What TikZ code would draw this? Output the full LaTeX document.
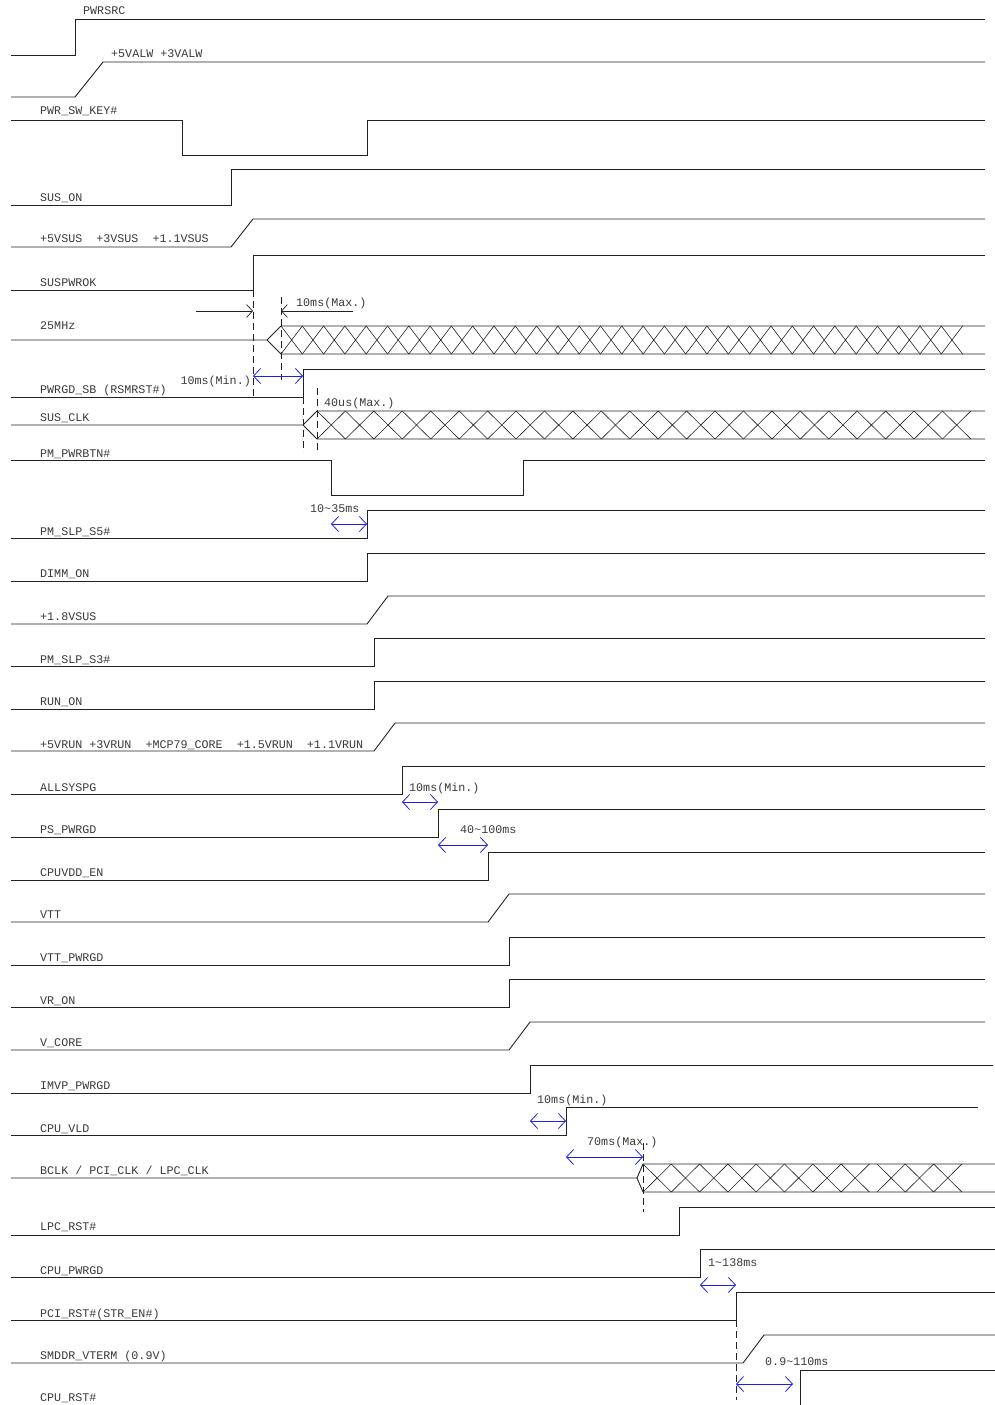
\documentclass[tikz,border=0pt]{standalone}
\usepackage{fontspec}
\setmonofont{Liberation Mono}
\usepackage{xcolor}
\usepackage{tikz}
\usetikzlibrary{arrows.meta, calc}
\definecolor{traceink}{HTML}{222222}
\definecolor{labelink}{HTML}{3A3A3A}
\definecolor{spanblue}{HTML}{1E1EF0}
\tikzset{
  wave/.style={line width=0.9pt, color=traceink},
  hatch/.style={line width=0.6pt, color=traceink},
  sig/.style={font=\ttfamily\fontsize{11.7}{13}\selectfont, text=labelink, anchor=base west, inner sep=0pt},
  guide/.style={line width=0.8pt, color=traceink, dash pattern=on 7pt off 4pt},
  bound/.style={-{Straight Barb[length=6pt, width=13pt]}, line width=0.7pt, color=traceink},
  span/.style={{Straight Barb[length=7pt, width=15pt]}-{Straight Barb[length=7pt, width=15pt]}, line width=0.8pt, color=spanblue},
}
\begin{document}
\begin{tikzpicture}[x=1pt, y=-1pt]
  \useasboundingbox (0,0) rectangle (995,1405);
  % step and ramp signals: low / edge start / edge end / high / line end
  \foreach \lo/\xa/\xb/\hi/\xe in {55/75/75/19/985, 97/75/103/62/985, 205/231/231/169/985,
      247/231/253/219/985, 290/253/253/255/985, 397/303/303/369/985, 538/367/367/510/985,
      581/367/367/553/985, 624/367/388/596/985, 666/374/374/638/985, 709/374/374/681/985,
      751/374/395/723/985, 794/402/402/766/985, 837/438/438/809/985, 880/488/488/852/985,
      922/488/509/894/985, 965/509/509/937/985, 1007/509/509/979/985, 1050/509/530/1022/985,
      1093/530/530/1065/993, 1135/566/566/1107/978, 1235/679/679/1207/995,
      1277/700/700/1249/995, 1320/736/736/1292/995, 1363/743/764/1335/995}
    \draw[wave] (11,\lo) -- (\xa,\lo) -- (\xb,\hi) -- (\xe,\hi);
  \draw[wave] (800,1405) -- (800,1370) -- (995,1370);
  % pulses
  \draw[wave] (11,120) -- (182,120) -- (182,155) -- (367,155) -- (367,120) -- (985,120);
  \draw[wave] (11,460) -- (331,460) -- (331,495) -- (523,495) -- (523,460) -- (985,460);

  % clocks
  \draw[wave] (11,340) -- (267,340) -- (281,326) -- (985,326) (267,340) -- (281,354) -- (985,354);
  \foreach \i in {0,...,31}
    \draw[hatch] ({281+21.3*\i},326) -- ({281+21.3*(\i+1)},354) ({281+21.3*\i},354) -- ({281+21.3*(\i+1)},326);
  \draw[wave] (11,425) -- (303,425) -- (317,411) -- (985,411) (303,425) -- (317,439) -- (985,439);
  \foreach \i in {0,...,22}
    \draw[hatch] ({317+28.43*\i},411) -- ({317+28.43*(\i+1)},439) ({317+28.43*\i},439) -- ({317+28.43*(\i+1)},411);
  \draw[wave] (11,1178) -- (637,1178) -- (643,1164) -- (995,1164) (637,1178) -- (643,1192) -- (995,1192);
  \foreach \s/\n in {643/7, 877/2}
    \foreach \i in {0,...,\n}
      \draw[hatch] ({\s+28.3*\i},1164) -- ({\s+28.3*(\i+1)},1192) ({\s+28.3*\i},1192) -- ({\s+28.3*(\i+1)},1164);

  % dashed guides
  \foreach \gx/\ga/\gb in {253/290/397, 281/297/380, 303/397/452, 317/388/453, 643/1143/1212, 736/1320/1400}
    \draw[guide] (\gx,\ga) -- (\gx,\gb);

  % timing marks
  \coordinate (okin) at (196,311);   \coordinate (okat) at (253,311);
  \coordinate (clkin) at (353,311);  \coordinate (clkat) at (281,311);
  \draw[bound] (okin) -- (okat);
  \draw[bound] (clkin) -- (clkat);
  \foreach \nm/\ya/\xa/\xb in {rsm/376/253/303, sfive/524/331/367, sys/802/402/438, vdd/845/438/488,
      vld/1121/530/566, bclk/1157/566/643, pci/1285/700/736, rst/1384/736/793} {
    \coordinate (\nm A) at (\xa,\ya);
    \coordinate (\nm B) at (\xb,\ya);
    \draw[span] (\nm A) -- (\nm B);
  }

  % signal names
  \node[sig] (pwrsrc) at (83,15) {PWRSRC};
  \node[sig] (valw) at (111,58) {+5VALW +3VALW};
  \foreach \nm/\yb/\txt in {swkey/114/{PWR\_SW\_KEY\#}, suson/201/{SUS\_ON},
      vsus/242/{+5VSUS~~+3VSUS~~+1.1VSUS}, suspwrok/286/{SUSPWROK}, clkmhz/329/{25MHz},
      pwrgdsb/393/{PWRGD\_SB (RSMRST\#)}, susclk/421/{SUS\_CLK}, pwrbtn/457/{PM\_PWRBTN\#},
      slpsfive/535/{PM\_SLP\_S5\#}, dimmon/577/{DIMM\_ON}, sussup/620/{+1.8VSUS},
      slpthree/663/{PM\_SLP\_S3\#}, runon/705/{RUN\_ON},
      vrun/748/{+5VRUN +3VRUN~~+MCP79\_CORE~~+1.5VRUN~~+1.1VRUN}, allsyspg/791/{ALLSYSPG},
      pspwrgd/833/{PS\_PWRGD}, cpuvdden/876/{CPUVDD\_EN}, vtt/918/{VTT}, vttpwrgd/961/{VTT\_PWRGD},
      vron/1004/{VR\_ON}, vcore/1046/{V\_CORE}, imvp/1089/{IMVP\_PWRGD}, cpuvld/1132/{CPU\_VLD},
      bclkname/1174/{BCLK / PCI\_CLK / LPC\_CLK}, lpcrst/1230/{LPC\_RST\#},
      cpupwrgd/1274/{CPU\_PWRGD}, pcirst/1317/{PCI\_RST\#(STR\_EN\#)},
      smddr/1359/{SMDDR\_VTERM (0.9V)}, cpurst/1401/{CPU\_RST\#}}
    \node[sig] (\nm) at (40,\yb) {\txt};

  % timing notes
  \node[sig] (maxclk) at (296,306) {10ms(Max.)};
  \node[sig, anchor=base east] (minrsm) at (251,384) {10ms(Min.)};
  \node[sig] (maxsus) at (324,406) {40us(Max.)};
  \node[sig] (noteS5) at (310,512) {10\textasciitilde35ms};
  \node[sig] (minsys) at (409,791) {10ms(Min.)};
  \node[sig] (notevdd) at (460,833) {40\textasciitilde100ms};
  \node[sig] (minvld) at (537,1103) {10ms(Min.)};
  \node[sig] (maxbclk) at (587,1145) {70ms(Max.)};
  \node[sig] (notepci) at (708,1266) {1\textasciitilde138ms};
  \node[sig] (noterst) at (765,1365) {0.9\textasciitilde110ms};
\end{tikzpicture}
\end{document}
